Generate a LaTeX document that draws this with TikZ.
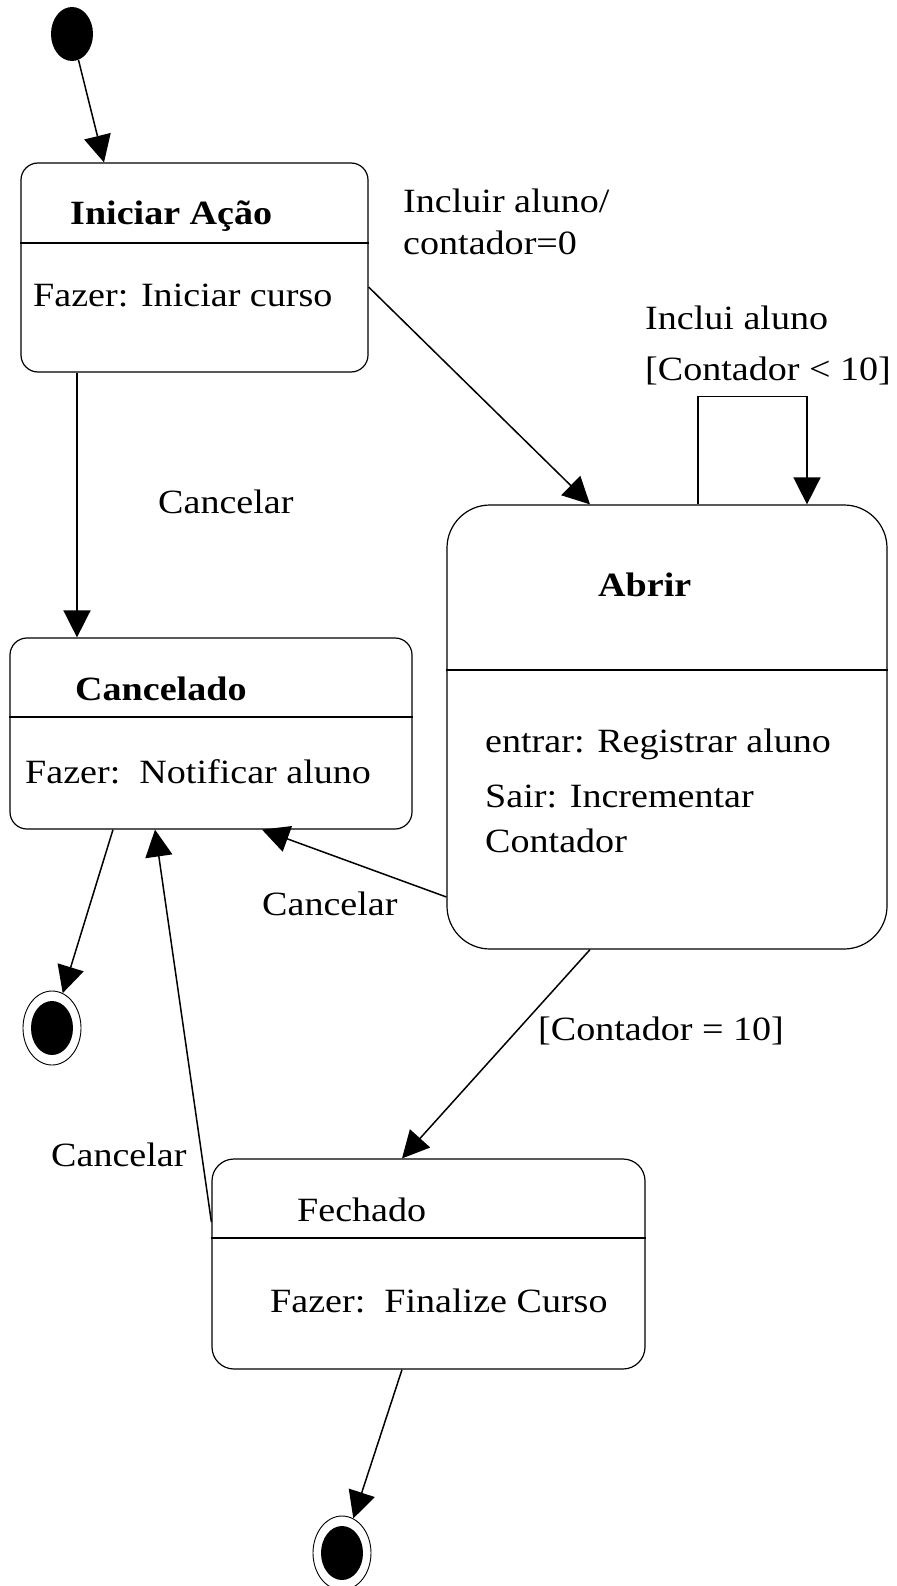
\documentclass[tikz,border=0pt]{standalone}
\usepackage{fontspec}
\setmainfont[FakeStretch=1.12]{Liberation Serif}
\usetikzlibrary{arrows.meta,shapes.geometric}
\begin{document}
\begin{tikzpicture}[x=1pt,y=-1pt,
  statebox/.style={draw, line width=1.2pt, rectangle, inner sep=0pt},
  divline/.style={line width=1.2pt},
  arr/.style={line width=1.5pt, -{Triangle[length=27pt,width=27pt]}},
  txt/.style={anchor=base west, inner sep=0pt, align=left, font=\fontsize{34}{43}\selectfont},
  ttl/.style={txt, font=\fontsize{34}{43}\selectfont\bfseries},
  dot/.style={ellipse, fill, inner sep=0pt, minimum width=42pt, minimum height=54pt},
  ring/.style={ellipse, draw, line width=0.9pt, inner sep=0pt, minimum width=58pt, minimum height=74pt}]
\useasboundingbox (0,0) rectangle (896,1586);
\fill[white] (0,0) rectangle (896,1586);

% states
\node[statebox, rounded corners=17pt, minimum width=347pt, minimum height=209pt] (iniciar) at (194.5,267.5) {};
\draw[divline] ([yshift=24.5pt]iniciar.west) -- ([yshift=24.5pt]iniciar.east);
\node[statebox, rounded corners=17pt, minimum width=402pt, minimum height=191pt] (cancelado) at (211,733.5) {};
\draw[divline] ([yshift=16.5pt]cancelado.west) -- ([yshift=16.5pt]cancelado.east);
\node[statebox, rounded corners=43pt, minimum width=440pt, minimum height=444pt] (abrir) at (667,727) {};
\draw[divline] ([yshift=57pt]abrir.west) -- ([yshift=57pt]abrir.east);
\node[statebox, rounded corners=22pt, minimum width=433pt, minimum height=210pt] (fechado) at (428.5,1264) {};
\draw[divline] ([yshift=26pt]fechado.west) -- ([yshift=26pt]fechado.east);

% pseudo states
\node[dot] (init) at (72,34) {};
\node[ring] (fin1) at (52,1028) {};
\node[dot] (fin1dot) at (fin1) {};
\node[ring] (fin2) at (342,1553) {};
\node[dot] (fin2dot) at (fin2) {};

% state texts
\node[ttl] (tIniciar) at (70,225) {Iniciar Ação};
\node[txt] (bIniciar) at (33,307) {Fazer: Iniciar curso};
\node[ttl] (tCancelado) at (75,700) {Cancelado};
\node[txt] (bCancelado) at (25,783) {Fazer:\ \ Notificar aluno};
\node[ttl] (tAbrir) at (598,596) {Abrir};
\node[txt] (bAbrir1) at (485,752) {entrar: Registrar aluno};
\node[txt, font=\fontsize{34}{45}\selectfont] (bAbrir2) at (485,852) {Sair: Incrementar\\Contador};
\node[txt] (tFechado) at (297,1221) {Fechado};
\node[txt] (bFechado) at (270,1312) {Fazer:\ \ Finalize Curso};

% transitions
\draw[arr] (init) -- ([xshift=-90.5pt]iniciar.north);
\draw[arr] ([yshift=-19.5pt]iniciar.east) -- ([xshift=-77pt]abrir.north);
\draw[arr] ([xshift=-117.5pt]iniciar.south) -- ([xshift=-134pt]cancelado.north);
\draw[arr] ([xshift=-98pt]cancelado.south) -- (fin1);
\draw[arr] ([yshift=-170pt]abrir.west) -- ([xshift=51pt]cancelado.south);
\draw[arr] ([yshift=42pt]fechado.west) -- ([xshift=-56pt]cancelado.south);
\draw[arr] ([xshift=-77pt]abrir.south) -- ([xshift=-26.5pt]fechado.north);
\draw[arr] ([xshift=-26.5pt]fechado.south) -- (fin2);
\draw[arr] ([xshift=31pt]abrir.north) -- ++(0,-108) -| ([xshift=140pt]abrir.north);

% transition labels
\node[txt, font=\fontsize{34}{42}\selectfont] (lIncluir) at (403,255) {Incluir aluno/\\contador=0};
\node[txt, font=\fontsize{34}{51}\selectfont] (lInclui) at (645,380) {Inclui aluno\\{[}Contador < 10{]}};
\node[txt] (lCancel1) at (158,513) {Cancelar};
\node[txt] (lCancel2) at (262,915) {Cancelar};
\node[txt] (lCancel3) at (51,1166) {Cancelar};
\node[txt] (lIgual) at (538,1040) {[Contador = 10]};
\end{tikzpicture}
\end{document}
